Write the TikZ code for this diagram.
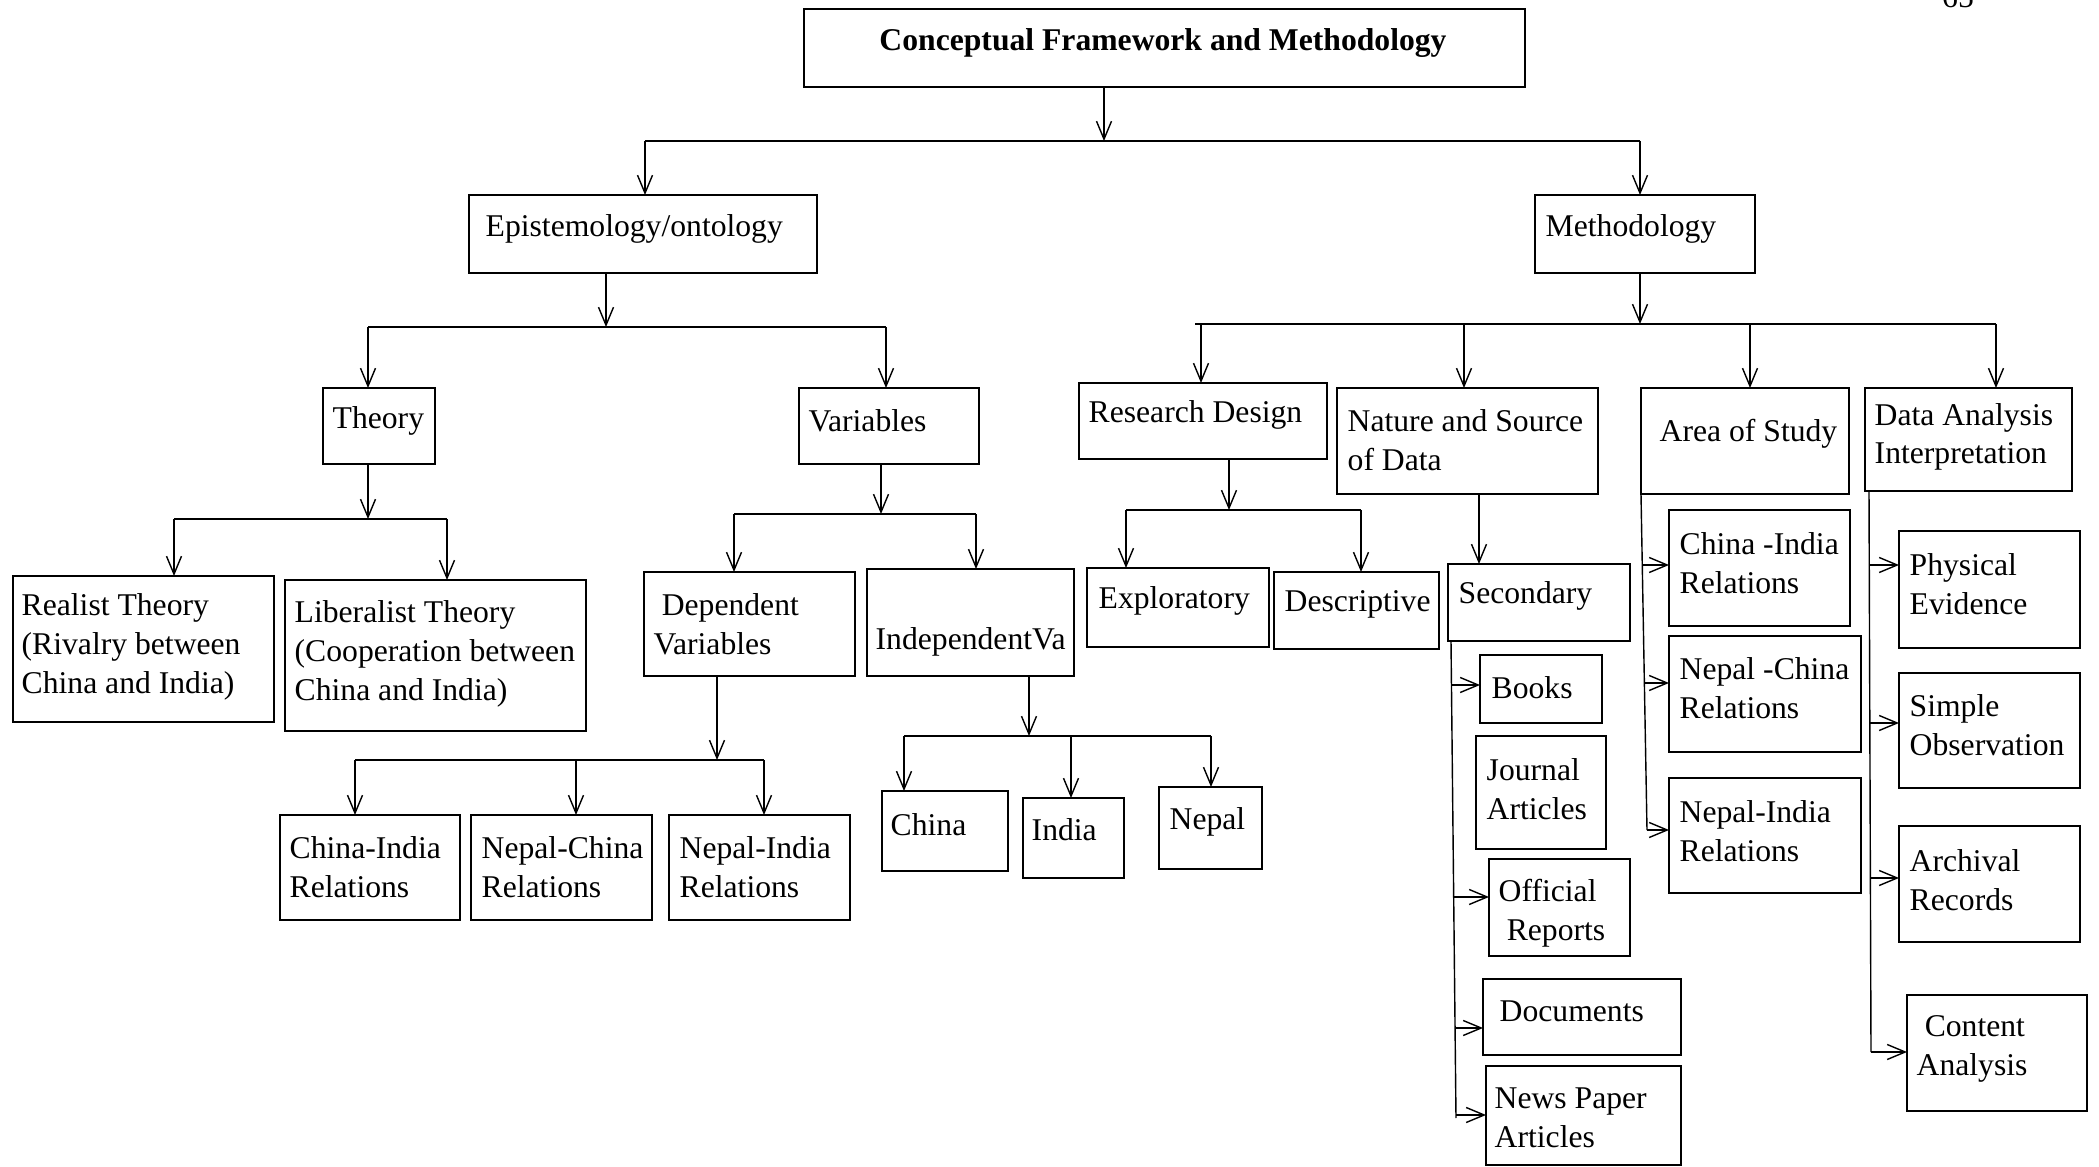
\documentclass[tikz,border=0pt]{standalone}
\usepackage{fontspec}
\setmainfont{Liberation Serif}
\usetikzlibrary{arrows.meta}
\newcommand\bx[5]{\node[bx, minimum width={(#4-#2)*0.01cm}, minimum height={(#5-#3)*0.01cm}] (#1) at ({(#2+#4)/2},{(#3+#5)/2}) {};}
\newcommand\tx[4]{\node[txt] (#1) at (#2,#3) {#4};}
\begin{document}
\begin{tikzpicture}[x=0.01cm,y=-0.01cm,
  bx/.style={draw, line width=0.75pt, inner sep=0pt, outer sep=0pt},
  txt/.style={inner sep=0pt, align=left, font=\fontsize{9}{11}\selectfont, anchor=west, yshift=-0.03cm},
  ln/.style={line width=0.4pt},
  arr/.style={line width=0.4pt, -{Straight Barb[length=0.18cm,width=0.15cm]}}]
\useasboundingbox (0,0) rectangle (2099,1167);
\clip (0,0) rectangle (2099,1167);
% boxes
\bx{title}{804}{9}{1525}{87}
\bx{epi}{469}{195}{817}{273}
\bx{meth}{1535}{195}{1755}{273}
\bx{theory}{323}{388}{435}{464}
\bx{var}{799}{388}{979}{464}
\bx{realist}{13}{576}{274}{722}
\bx{liberal}{285}{580}{586}{731}
\bx{dep}{644}{572}{855}{676}
\bx{indep}{867}{569}{1074}{676}
\bx{ci}{280}{815}{460}{920}
\bx{nc}{471}{815}{652}{920}
\bx{ni}{669}{815}{850}{920}
\bx{china}{882}{791}{1008}{871}
\bx{india}{1023}{798}{1124}{878}
\bx{nepal}{1159}{787}{1262}{869}
\bx{rd}{1079}{383}{1327}{459}
\bx{nat}{1337}{388}{1598}{494}
\bx{area}{1641}{388}{1849}{494}
\bx{da}{1865}{388}{2072}{491}
\bx{exp}{1087}{568}{1269}{647}
\bx{desc}{1274}{572}{1439}{649}
\bx{sec}{1448}{564}{1630}{641}
\bx{books}{1480}{655}{1602}{723}
\bx{ja}{1476}{736}{1606}{849}
\bx{offr}{1489}{859}{1630}{956}
\bx{doc}{1483}{979}{1681}{1055}
\bx{np}{1486}{1066}{1681}{1165}
\bx{cin}{1669}{510}{1850}{626}
\bx{ncn}{1669}{636}{1861}{752}
\bx{nin}{1669}{778}{1861}{893}
\bx{pe}{1899}{531}{2080}{648}
\bx{sob}{1899}{673}{2080}{788}
\bx{ar}{1899}{826}{2080}{942}
\bx{ca}{1907}{995}{2087}{1111}
% texts
\node[txt, anchor=center, font=\bfseries\fontsize{9}{11}\selectfont] (title-t) at (1163,40) {Conceptual Framework and Methodology};
\node[txt, anchor=base] (pg) at (1958,5) {65};
\tx{epi-t}{485}{226}{Epistemology/ontology}
\tx{meth-t}{1545}{226}{Methodology}
\tx{theory-t}{332}{418}{Theory}
\tx{var-t}{808}{418}{Variables}
\tx{realist-t}{21}{644}{Realist Theory\\(Rivalry between\\China and India)}
\tx{liberal-t}{294}{651}{Liberalist Theory\\(Cooperation between\\China and India)}
\tx{dep-t}{653}{621}{\hspace*{2.3pt}Dependent\\Variables}
\tx{indep-t}{875}{639}{IndependentVa}
\tx{ci-t}{289}{864}{China-India\\Relations}
\tx{nc-t}{481}{864}{Nepal-China\\Relations}
\tx{ni-t}{679}{864}{Nepal-India\\Relations}
\tx{china-t}{890}{822}{China}
\tx{india-t}{1031}{827}{India}
\tx{nepal-t}{1169}{819}{Nepal}
\tx{rd-t}{1088}{412}{Research Design}
\tx{nat-t}{1347}{437}{Nature and Source\\of Data}
\tx{area-t}{1659}{431}{Area of Study}
\tx{da-t}{1874}{434}{Data Analysis\\Interpretation}
\tx{exp-t}{1098}{598}{Exploratory}
\tx{desc-t}{1284}{601}{Descriptive}
\tx{sec-t}{1458}{593}{Secondary}
\tx{books-t}{1491}{685}{Books}
\tx{ja-t}{1486}{786}{Journal\\Articles}
\tx{offr-t}{1498}{910}{Official\\\hspace*{2.3pt}Reports}
\tx{doc-t}{1499}{1008}{Documents}
\tx{np-t}{1494}{1115}{News Paper\\Articles}
\tx{cin-t}{1679}{560}{China -India\\Relations}
\tx{ncn-t}{1679}{685}{Nepal -China\\Relations}
\tx{nin-t}{1679}{828}{Nepal-India\\Relations}
\tx{pe-t}{1909}{581}{Physical\\Evidence}
\tx{sob-t}{1909}{722}{Simple\\Observation}
\tx{ar-t}{1909}{877}{Archival\\Records}
\tx{ca-t}{1916}{1046}{\hspace*{2.3pt}Content\\Analysis}
% connectors: top level
\coordinate (j0) at (1104,141); \coordinate (j0L) at (645,141); \coordinate (j0R) at (1640,141);
\draw[arr] (title.south -| j0) -- (j0);
\draw[ln] (j0L) -- (j0R);
\draw[arr] (j0L) -- (epi.north -| j0L);
\draw[arr] (j0R) -- (meth.north -| j0R);
% epistemology
\coordinate (j1) at (606,327); \coordinate (j1L) at (368,327); \coordinate (j1R) at (886,327);
\draw[arr] (epi.south -| j1) -- (j1);
\draw[ln] (j1L) -- (j1R);
\draw[arr] (j1L) -- (theory.north -| j1L);
\draw[arr] (j1R) -- (var.north -| j1R);
% theory
\coordinate (j2) at (368,519); \coordinate (j2L) at (174,519); \coordinate (j2R) at (447,519);
\draw[arr] (theory.south -| j2) -- (j2);
\draw[ln] (j2L) -- (j2R);
\draw[arr] (j2L) -- (realist.north -| j2L);
\draw[arr] (j2R) -- (liberal.north -| j2R);
% variables
\coordinate (j3) at (881,514); \coordinate (j3L) at (734,514); \coordinate (j3R) at (976,514);
\draw[arr] (var.south -| j3) -- (j3);
\draw[ln] (j3L) -- (j3R);
\draw[arr] (j3L) -- (dep.north -| j3L);
\draw[arr] (j3R) -- (indep.north -| j3R);
% dependent
\coordinate (j4) at (717,760); \coordinate (j4L) at (355,760); \coordinate (j4M) at (576,760); \coordinate (j4R) at (764,760);
\draw[arr] (dep.south -| j4) -- (j4);
\draw[ln] (j4L) -- (j4R);
\draw[arr] (j4L) -- (ci.north -| j4L);
\draw[arr] (j4M) -- (nc.north -| j4M);
\draw[arr] (j4R) -- (ni.north -| j4R);
% independent
\coordinate (j5) at (1029,736); \coordinate (j5L) at (904,736); \coordinate (j5M) at (1071,736); \coordinate (j5R) at (1211,736);
\draw[arr] (indep.south -| j5) -- (j5);
\draw[ln] (j5L) -- (j5R);
\draw[arr] (j5L) -- (china.north -| j5L);
\draw[arr] (j5M) -- (india.north -| j5M);
\draw[arr] (j5R) -- (nepal.north -| j5R);
% methodology
\coordinate (j6) at (1640,324); \coordinate (j6L) at (1195,324); \coordinate (j6R) at (1996,324);
\coordinate (d1) at (1201,324); \coordinate (d2) at (1464,324); \coordinate (d3) at (1750,324);
\draw[arr] (meth.south -| j6) -- (j6);
\draw[ln] (j6L) -- (j6R);
\draw[arr] (d1) -- (rd.north -| d1);
\draw[arr] (d2) -- (nat.north -| d2);
\draw[arr] (d3) -- (area.north -| d3);
\draw[arr] (j6R) -- (da.north -| j6R);
% research design
\coordinate (j7) at (1229,510); \coordinate (j7L) at (1126,510); \coordinate (j7R) at (1361,510);
\draw[arr] (rd.south -| j7) -- (j7);
\draw[ln] (j7L) -- (j7R);
\draw[arr] (j7L) -- (exp.north -| j7L);
\draw[arr] (j7R) -- (desc.north -| j7R);
% nature -> secondary
\coordinate (k1) at (1479,500);
\draw[arr] (nat.south -| k1) -- (sec.north -| k1);
% secondary trunk
\coordinate (s0) at (1451,641); \coordinate (s1) at (1456,1118);
\draw[ln] (sec.south -| s0) -- (s1);
\coordinate (sb) at (1452,685); \coordinate (sr) at (1454,897); \coordinate (sd) at (1455,1028); \coordinate (sn) at (1456,1115);
\draw[arr] (sb) -- (books.west |- sb);
\draw[arr] (sr) -- (offr.west |- sr);
\draw[arr] (sd) -- (doc.west |- sd);
\draw[arr] (sn) -- (np.west |- sn);
% area trunk
\coordinate (a0) at (1641,494); \coordinate (a1) at (1647,830);
\draw[ln] (area.south -| a0) -- (a1);
\coordinate (ab1) at (1643,565); \coordinate (ab2) at (1645,683);
\draw[arr] (ab1) -- (cin.west |- ab1);
\draw[arr] (ab2) -- (ncn.west |- ab2);
\draw[arr] (a1) -- (nin.west |- a1);
% data analysis trunk
\coordinate (e0) at (1869,491); \coordinate (e1) at (1871,1052);
\draw[ln] (da.south -| e0) -- (e1);
\coordinate (eb1) at (1869,565); \coordinate (eb2) at (1870,723); \coordinate (eb3) at (1870,878);
\draw[arr] (eb1) -- (pe.west |- eb1);
\draw[arr] (eb2) -- (sob.west |- eb2);
\draw[arr] (eb3) -- (ar.west |- eb3);
\draw[arr] (e1) -- (ca.west |- e1);
\end{tikzpicture}
\end{document}
